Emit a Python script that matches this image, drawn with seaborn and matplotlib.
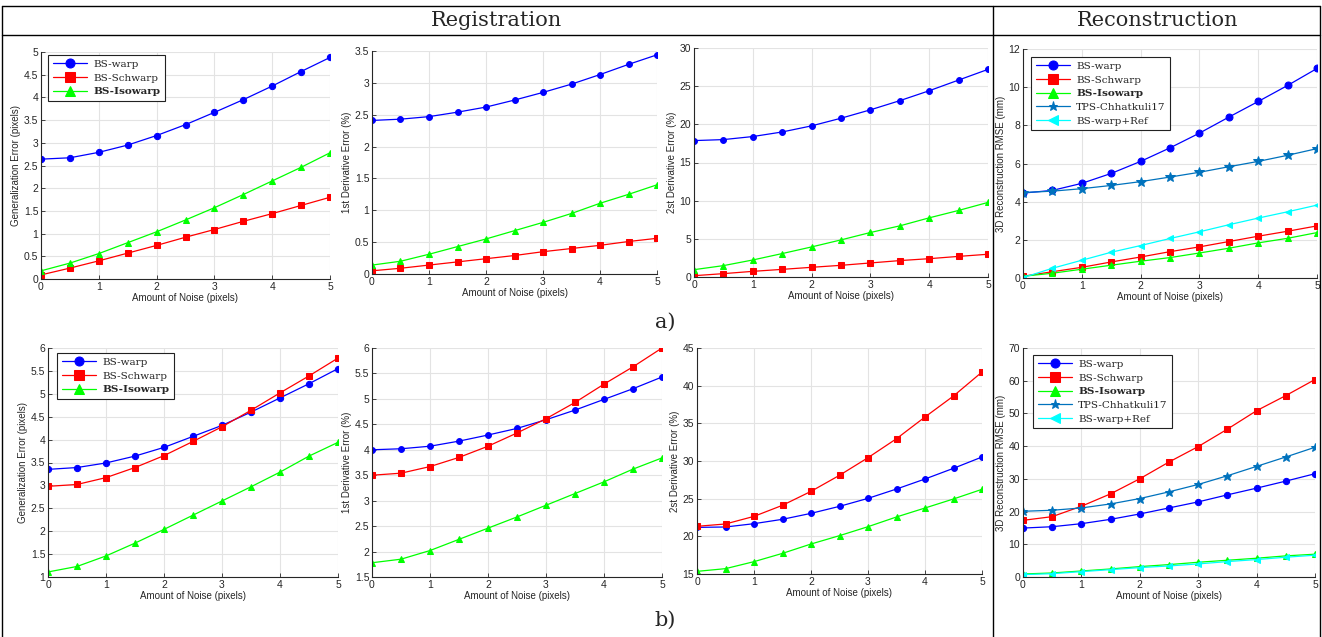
import matplotlib
matplotlib.use("Agg")
import matplotlib.pyplot as plt
import seaborn as sns
from matplotlib.lines import Line2D
from matplotlib.ticker import FormatStrFormatter, MultipleLocator

# ---------------- data ----------------
noise = [0, 0.5, 1, 1.5, 2, 2.5, 3, 3.5, 4, 4.5, 5]

# a) row - registration
gen_warp_a = [2.64, 2.67, 2.79, 2.95, 3.16, 3.40, 3.67, 3.95, 4.25, 4.57, 4.88]
gen_schwarp_a = [0.09, 0.24, 0.40, 0.57, 0.74, 0.92, 1.09, 1.27, 1.44, 1.62, 1.80]
gen_iso_a = [0.18, 0.35, 0.56, 0.80, 1.04, 1.30, 1.57, 1.86, 2.16, 2.46, 2.78]

d1_warp_a = [2.41, 2.43, 2.47, 2.54, 2.62, 2.73, 2.85, 2.98, 3.13, 3.29, 3.44]
d1_schwarp_a = [0.05, 0.09, 0.14, 0.19, 0.24, 0.29, 0.35, 0.40, 0.45, 0.51, 0.56]
d1_iso_a = [0.14, 0.20, 0.31, 0.43, 0.55, 0.68, 0.81, 0.95, 1.11, 1.25, 1.40]

d2_warp_a = [17.87, 18.0, 18.4, 19.0, 19.8, 20.8, 21.9, 23.1, 24.4, 25.8, 27.2]
d2_schwarp_a = [0.17, 0.44, 0.74, 1.0, 1.27, 1.53, 1.84, 2.15, 2.4, 2.7, 2.98]
d2_iso_a = [0.96, 1.49, 2.23, 3.07, 3.94, 4.86, 5.83, 6.7, 7.75, 8.72, 9.77]

rec_warp_a = [4.45, 4.59, 4.96, 5.48, 6.11, 6.82, 7.59, 8.43, 9.25, 10.09, 10.98]
rec_schwarp_a = [0.09, 0.33, 0.56, 0.84, 1.10, 1.38, 1.63, 1.91, 2.19, 2.45, 2.73]
rec_iso_a = [0.09, 0.25, 0.46, 0.67, 0.88, 1.07, 1.31, 1.56, 1.84, 2.08, 2.38]
rec_tps_a = [4.48, 4.55, 4.68, 4.85, 5.05, 5.29, 5.54, 5.83, 6.11, 6.43, 6.78]
rec_ref_a = [0.02, 0.51, 0.93, 1.35, 1.70, 2.07, 2.42, 2.79, 3.14, 3.47, 3.82]

# b) row
gen_warp_b = [3.35, 3.39, 3.49, 3.64, 3.83, 4.07, 4.31, 4.60, 4.91, 5.22, 5.55]
gen_schwarp_b = [2.98, 3.02, 3.17, 3.39, 3.65, 3.96, 4.28, 4.64, 5.02, 5.39, 5.78]
gen_iso_b = [1.11, 1.23, 1.46, 1.74, 2.04, 2.35, 2.66, 2.97, 3.29, 3.64, 3.94]

d1_warp_b = [4.00, 4.02, 4.07, 4.17, 4.29, 4.42, 4.59, 4.78, 4.99, 5.20, 5.43]
d1_schwarp_b = [3.50, 3.54, 3.67, 3.85, 4.07, 4.33, 4.61, 4.93, 5.29, 5.63, 6.00]
d1_iso_b = [1.78, 1.85, 2.02, 2.24, 2.46, 2.68, 2.91, 3.14, 3.37, 3.62, 3.84]

d2_warp_b = [21.19, 21.24, 21.68, 22.26, 23.05, 23.98, 25.04, 26.28, 27.61, 29.03, 30.53]
d2_schwarp_b = [21.33, 21.64, 22.65, 24.12, 25.97, 28.1, 30.44, 32.96, 35.84, 38.63, 41.81]
d2_iso_b = [15.35, 15.71, 16.64, 17.74, 18.98, 20.09, 21.28, 22.57, 23.76, 24.96, 26.24]

rec_warp_b = [14.96, 15.37, 16.3, 17.63, 19.27, 21.11, 22.96, 25.11, 27.16, 29.31, 31.57]
rec_schwarp_b = [17.32, 18.45, 21.63, 25.42, 30.03, 35.15, 39.87, 45.2, 50.84, 55.45, 60.37]
rec_iso_b = [0.92, 1.23, 1.84, 2.46, 3.18, 3.79, 4.51, 5.12, 5.74, 6.46, 6.97]
rec_tps_b = [20.09, 20.4, 21.11, 22.34, 23.98, 26.03, 28.29, 30.95, 33.82, 36.69, 39.66]
rec_ref_b = [0.72, 1.02, 1.64, 2.25, 2.87, 3.38, 4.0, 4.71, 5.33, 6.05, 6.66]

names3 = ["BS-warp", "BS-Schwarp", "BS-Isowarp"]
names5 = ["BS-warp", "BS-Schwarp", "BS-Isowarp", "TPS-Chhatkuli17", "BS-warp+Ref"]

xlabel = "Amount of Noise (pixels)"
headers = ["Registration", "Reconstruction"]
row_labels = ["a)", "b)"]

# ---------------- style ----------------
sns.set_style("ticks")
plt.rcParams['font.family'] = ['Liberation Sans', 'DejaVu Sans']

STYLE = {
    "BS-warp": dict(color="#0000ff", marker="o"),
    "BS-Schwarp": dict(color="#ff0000", marker="s"),
    "BS-Isowarp": dict(color="#00ff00", marker="^"),
    "TPS-Chhatkuli17": dict(color="#0072bd", marker="*"),
    "BS-warp+Ref": dict(color="#00ffff", marker="<"),
}

W, H = 1322, 637
fig = plt.figure(figsize=(W / 100, H / 100), dpi=100)


def add_ax(l, t, r, b):
    return fig.add_axes([l / W, 1 - b / H, (r - l) / W, (b - t) / H])


panels = [
    dict(box=(41, 52, 330, 279), series=[gen_warp_a, gen_schwarp_a, gen_iso_a], names=names3,
         ylim=(0, 5), step=0.5, ylabel="Generalization Error (pixels)",
         legend=(0.024, 0.987), ms=4.5),
    dict(box=(372, 51, 657, 274), series=[d1_warp_a, d1_schwarp_a, d1_iso_a], names=names3,
         ylim=(0, 3.5), step=0.5, ylabel="1st Derivative Error (%)", legend=None, ms=4.2),
    dict(box=(694, 48, 988, 277), series=[d2_warp_a, d2_schwarp_a, d2_iso_a], names=names3,
         ylim=(0, 30), step=5, ylabel="2st Derivative Error (%)", legend=None, ms=4.2),
    dict(box=(1023, 49, 1317, 278),
         series=[rec_warp_a, rec_schwarp_a, rec_iso_a, rec_tps_a, rec_ref_a], names=names5,
         ylim=(0, 12), step=2, ylabel="3D Reconstruction RMSE (mm)",
         legend=(0.027, 0.965), ms=5.0),
    dict(box=(48, 348, 338, 577), series=[gen_warp_b, gen_schwarp_b, gen_iso_b], names=names3,
         ylim=(1, 6), step=0.5, ylabel="Generalization Error (pixels)",
         legend=(0.031, 0.978), ms=4.5),
    dict(box=(372, 348, 662, 577), series=[d1_warp_b, d1_schwarp_b, d1_iso_b], names=names3,
         ylim=(1.5, 6), step=0.5, ylabel="1st Derivative Error (%)", legend=None, ms=4.2),
    dict(box=(697, 348, 982, 574), series=[d2_warp_b, d2_schwarp_b, d2_iso_b], names=names3,
         ylim=(15, 45), step=5, ylabel="2st Derivative Error (%)", legend=None, ms=4.2),
    dict(box=(1023, 348, 1315, 577),
         series=[rec_warp_b, rec_schwarp_b, rec_iso_b, rec_tps_b, rec_ref_b], names=names5,
         ylim=(0, 70), step=10, ylabel="3D Reconstruction RMSE (mm)",
         legend=(0.034, 0.969), ms=4.5),
]

AX_COLOR = "#262626"

for p in panels:
    ax = add_ax(*p["box"])
    for vals, name in zip(p["series"], p["names"]):
        st = STYLE[name]
        sns.lineplot(x=noise, y=vals, ax=ax, color=st["color"], marker=st["marker"],
                     markersize=p["ms"] * (1.4 if st["marker"] == "*" else 1.0),
                     markeredgecolor=st["color"], linewidth=0.9, label=name)
    ax.set_xlim(0, 5)
    ax.set_ylim(*p["ylim"])
    ax.xaxis.set_major_locator(MultipleLocator(1))
    ax.yaxis.set_major_locator(MultipleLocator(p["step"]))
    ax.yaxis.set_major_formatter(FormatStrFormatter("%g"))
    ax.grid(True, color="#e3e3e3", linewidth=0.8)
    ax.set_axisbelow(True)
    for s in ["top", "right"]:
        ax.spines[s].set_visible(False)
    for s in ["left", "bottom"]:
        ax.spines[s].set_color(AX_COLOR)
        ax.spines[s].set_linewidth(0.8)
    ax.tick_params(direction="in", length=3, width=0.6, colors=AX_COLOR,
                   labelsize=7.5, pad=2)
    ax.set_xlabel(xlabel, fontsize=7, color=AX_COLOR, labelpad=1)
    ax.set_ylabel(p["ylabel"], fontsize=7, color=AX_COLOR, labelpad=2)
    leg = ax.get_legend()
    if leg is not None:
        leg.remove()
    if p["legend"] is not None:
        leg = ax.legend(loc="upper left", bbox_to_anchor=p["legend"], borderaxespad=0,
                        prop={"family": "DejaVu Serif", "size": 7.5},
                        frameon=True, fancybox=False, framealpha=1, edgecolor="#222222",
                        handlelength=3.3, labelspacing=0.42, borderpad=0.45,
                        handletextpad=0.6)
        leg.get_frame().set_linewidth(0.8)
        for h in leg.legend_handles:
            h.set_markersize(6.5)
        for t in leg.get_texts():
            if t.get_text() == "BS-Isowarp":
                t.set_fontweight("bold")

# ---------------- frame lines and headers ----------------
def hline(y, x0, x1):
    fig.add_artist(Line2D([x0 / W, x1 / W], [1 - y / H, 1 - y / H], color="black",
                          linewidth=1.0, transform=fig.transFigure))


def vline(x, y0, y1):
    fig.add_artist(Line2D([x / W, x / W], [1 - y0 / H, 1 - y1 / H], color="black",
                          linewidth=1.0, transform=fig.transFigure))

hline(6, 2, 1320)
hline(35, 2, 1320)
vline(2, 6, 637)
vline(993, 6, 637)
vline(1320, 6, 637)

fig.text(497 / W, 1 - 21 / H, headers[0], ha="center", va="center",
         family="DejaVu Serif", fontsize=15)
fig.text(1158 / W, 1 - 21 / H, headers[1], ha="center", va="center",
         family="DejaVu Serif", fontsize=15)
fig.text(665 / W, 1 - 322 / H, row_labels[0], ha="center", va="center",
         family="DejaVu Serif", fontsize=15)
fig.text(665 / W, 1 - 620 / H, row_labels[1], ha="center", va="center",
         family="DejaVu Serif", fontsize=15)

fig.savefig("out.png", dpi=100)
